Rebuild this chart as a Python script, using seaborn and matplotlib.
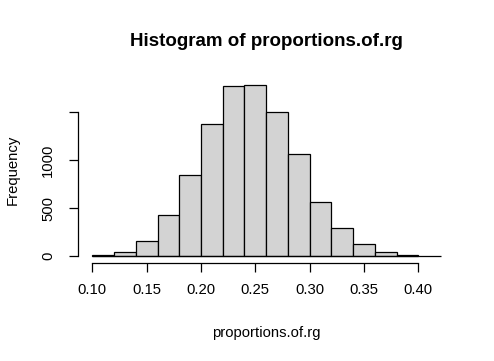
import numpy as np
import seaborn as sns
import matplotlib.pyplot as plt

# bin edges (width 0.02) and counts
edges = [0.10, 0.12, 0.14, 0.16, 0.18, 0.20, 0.22, 0.24, 0.26, 0.28,
         0.30, 0.32, 0.34, 0.36, 0.38, 0.40]
counts = [10, 42, 157, 428, 846, 1381, 1778, 1788, 1503, 1065,
          564, 292, 125, 42, 10]
xticks = [0.10, 0.15, 0.20, 0.25, 0.30, 0.35, 0.40]
xtick_labels = ["0.10", "0.15", "0.20", "0.25", "0.30", "0.35", "0.40"]
yticks = [0, 500, 1000, 1500]
ytick_labels = ["0", "500", "1000", ""]
baseline_end = 0.421

mids = [(a + b) / 2 for a, b in zip(edges[:-1], edges[1:])]

sns.set_style("white")
plt.rcParams['font.family'] = ['Liberation Sans', 'DejaVu Sans']
plt.rcParams['text.color'] = 'black'

W, H = 494, 361
fig = plt.figure(figsize=(W / 100, H / 100), dpi=100)
ax = fig.add_axes([78 / W, 1 - 263 / H, (454 - 78) / W, (263 - 78) / H])

sns.histplot(x=mids, weights=counts, bins=edges, color="#D3D3D3",
             edgecolor="black", linewidth=0.9, alpha=1, ax=ax)
ax.hlines(0, edges[0], baseline_end, color="black", linewidth=0.9,
          clip_on=False, zorder=3)

ax.set_xlim(0.0868, 0.4328)
ax.set_ylim(-71.5, 1859.5)

for s in ["top", "right"]:
    ax.spines[s].set_visible(False)
ax.spines["left"].set_bounds(0, 1500)
ax.spines["bottom"].set_bounds(0.10, 0.40)
for s in ["left", "bottom"]:
    ax.spines[s].set_linewidth(0.9)
    ax.spines[s].set_color("black")

ax.set_xticks(xticks, xtick_labels)
ax.set_yticks(yticks, ytick_labels)
ax.tick_params(axis="both", direction="out", length=6.5, width=0.9,
               color="black", labelsize=10.7, labelcolor="black")
ax.tick_params(axis="x", pad=8, bottom=True)
ax.tick_params(axis="y", pad=10, left=True)
for lab in ax.get_yticklabels():
    lab.set_rotation(90)
    lab.set_va("center")

ax.set_xlabel("")
ax.set_ylabel("")
fig.text(266 / W, 1 - 333 / H, "proportions.of.rg", ha="center", va="center",
         fontsize=10.7, color="black")
fig.text(13 / W, 1 - 170 / H, "Frequency", ha="center", va="center",
         rotation=90, fontsize=10.7, color="black")
fig.text(266 / W, 1 - 42 / H, "Histogram of proportions.of.rg", ha="center",
         va="center", fontsize=13.5, fontweight="bold", color="black")

fig.savefig("out.png", dpi=100)
